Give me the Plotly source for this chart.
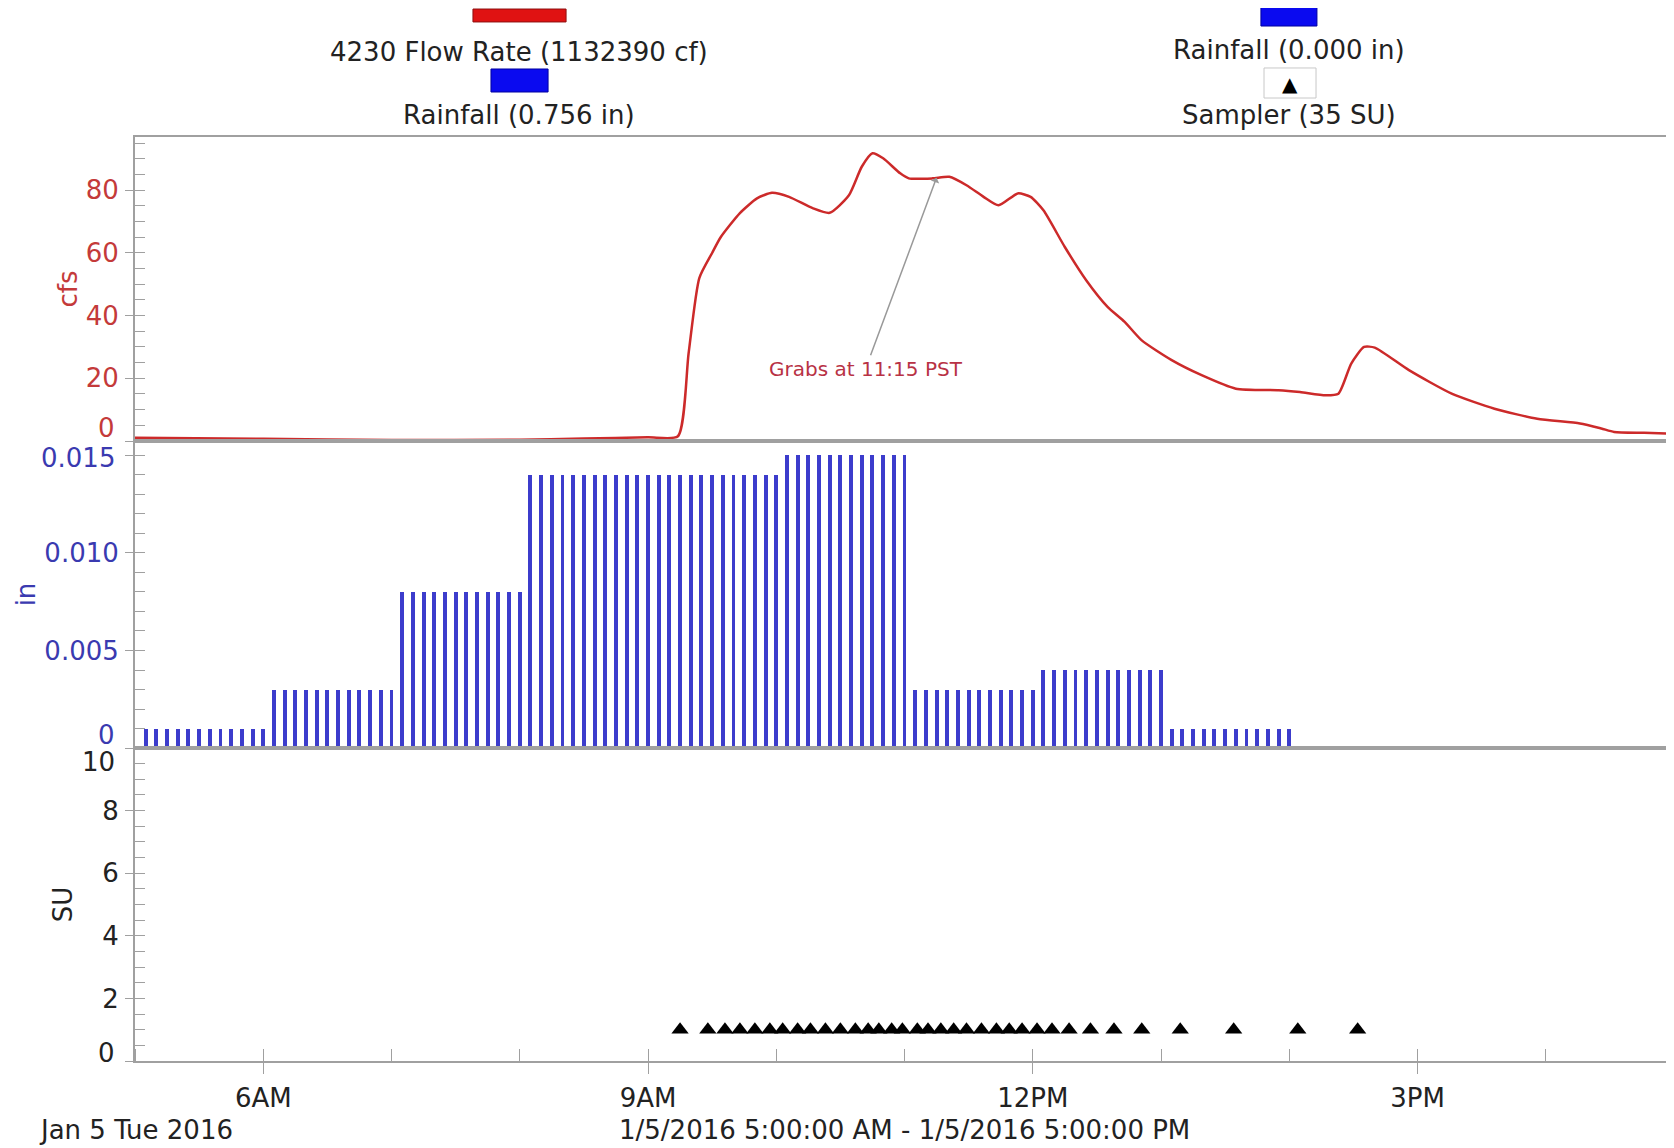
import plotly.graph_objects as go

# ---- flow rate (cfs) ----
flow_time = [
    "05:00", "06:00", "07:00", "08:00", "08:30", "09:00", "09:14", "09:19", "09:24",
    "09:30", "09:34", "09:43", "09:51", "09:58", "10:06", "10:17", "10:25", "10:34",
    "10:40", "10:45", "10:50", "10:58", "11:02", "11:13", "11:21", "11:29", "11:37",
    "11:44", "11:53", "11:59", "12:05", "12:15", "12:25", "12:35", "12:43", "12:51",
    "13:05", "13:19", "13:35", "13:55", "14:05", "14:17", "14:23", "14:29", "14:35",
    "14:40", "14:56", "15:16", "15:36", "15:56", "16:16", "16:26", "16:32", "16:46",
    "17:00",
]
flow_cfs = [
    1.0, 0.7, 0.3, 0.4, 0.8, 1.2, 1.5, 28, 52,
    60, 65, 72.7, 77.4, 79.2, 77.9, 74.3, 72.8, 78.4,
    87.5, 91.8, 90.2, 85.4, 83.8, 83.8, 84.3, 81.6, 77.9,
    75.2, 79.0, 77.9, 73.6, 61.9, 51.3, 42.8, 38.0, 32.1,
    25.8, 21.0, 16.7, 16.2, 15.6, 14.6, 15.1, 24.7, 30.0,
    29.8, 22.6, 15.1, 10.3, 7.1, 5.6, 4.0, 2.9, 2.6,
    2.3,
]

# ---- rainfall (in) per 5-minute interval, 5:05 AM .. 2:00 PM ----
rain_in = (
    [0.001] * 12    # 5-6 AM
    + [0.003] * 12  # 6-7 AM
    + [0.008] * 12  # 7-8 AM
    + [0.014] * 12  # 8-9 AM
    + [0.014] * 12  # 9-10 AM
    + [0.015] * 12  # 10-11 AM
    + [0.003] * 12  # 11-12
    + [0.004] * 12  # 12-1 PM
    + [0.001] * 12  # 1-2 PM
)
rain_time = []
for i in range(len(rain_in)):
    m = 5 * 60 + 5 * (i + 1)
    rain_time.append("2016-01-05 %02d:%02d" % (m // 60, m % 60))

# ---- sampler events ----
sample_time = [
    "09:15", "09:28", "09:36", "09:43", "09:50", "09:57", "10:03", "10:10", "10:16",
    "10:23", "10:30", "10:37", "10:43", "10:48", "10:54", "10:59", "11:06", "11:11",
    "11:17", "11:23", "11:29", "11:36", "11:43", "11:49", "11:55", "12:02", "12:09",
    "12:17", "12:27", "12:38", "12:51", "13:09", "13:34", "14:04", "14:32",
]
sample_su = [1, 1, 1, 1, 1, 1, 1, 1, 1, 1, 1, 1, 1, 1, 1, 1, 1, 1,
             1, 1, 1, 1, 1, 1, 1, 1, 1, 1, 1, 1, 1, 1, 1, 1, 1]

day = "2016-01-05 "
FONT = "DejaVu Sans"
RED = "#cc2a2a"
RED_TXT = "#c43a3a"
BLUE = "#3a3ab0"
GRAY = "#a0a0a0"

fig = go.Figure()

fig.add_trace(go.Scatter(
    x=[day + t for t in flow_time], y=flow_cfs,
    mode="lines", line=dict(color=RED, width=2.5, shape="spline", smoothing=0.6),
    xaxis="x", yaxis="y", showlegend=False))

fig.add_trace(go.Bar(
    x=rain_time, y=rain_in, width=110000,
    marker=dict(color="#3c3ccc", line=dict(width=0)),
    xaxis="x2", yaxis="y2", showlegend=False))

fig.add_trace(go.Scatter(
    x=[day + t for t in sample_time], y=sample_su,
    mode="markers", marker=dict(symbol="triangle-up", size=15, color="black"),
    xaxis="x3", yaxis="y3", showlegend=False))

"""$$$$$$$$$$$$$$$ FORMATTING $$$$$$$$$$$$$$$$"""
x_common = dict(type="date", range=[day + "05:00", day + "17:00"], showgrid=False,
                showline=True, linecolor=GRAY, linewidth=2, mirror=True, zeroline=False)
y_common = dict(showgrid=False, zeroline=False, showline=True, linecolor=GRAY, linewidth=2,
                ticks="outside", ticklen=8, tickcolor=GRAY, ticklabelstandoff=1)

# the page body has an 8px margin, so the figure is 8px smaller and margins shifted
fig.update_layout(
    xaxis=dict(x_common, anchor="y", matches="x3", showticklabels=False, ticks=""),
    xaxis2=dict(x_common, anchor="y2", matches="x3", showticklabels=False, ticks=""),
    xaxis3=dict(x_common, anchor="y3",
                tick0=day + "06:00", dtick=3 * 3600000, tickformat="%-I%p",
                ticks="outside", ticklen=11, tickcolor=GRAY, ticklabelstandoff=2,
                tickfont=dict(size=26, color="#222"),
                minor=dict(dtick=3600000, ticks="inside", ticklen=12, tickcolor=GRAY)),
    yaxis=dict(y_common, domain=[0.671, 1], anchor="x", range=[0, 97],
               tickvals=[0, 20, 40, 60, 80], ticktext=["", "20", "40", "60", "80"],
               tickfont=dict(size=26, color=RED_TXT),
               minor=dict(dtick=5, ticks="inside", ticklen=10, tickcolor=GRAY),
               title=dict(text="cfs", font=dict(size=26, color=RED_TXT), standoff=1)),
    yaxis2=dict(y_common, domain=[0.3387, 0.671], anchor="x2", range=[0, 0.01574],
                tickvals=[0, 0.005, 0.010, 0.015], ticktext=["", "0.005", "0.010", ""],
                tickfont=dict(size=26, color=BLUE),
                minor=dict(dtick=0.001, ticks="inside", ticklen=10, tickcolor=GRAY),
                title=dict(text="in", font=dict(size=26, color=BLUE), standoff=1)),
    yaxis3=dict(y_common, domain=[0, 0.3387], anchor="x3", range=[0, 10],
                tickvals=[0, 2, 4, 6, 8, 10], ticktext=["", "2", "4", "6", "8", ""],
                tickfont=dict(size=26, color="#222"),
                minor=dict(dtick=0.5, ticks="inside", ticklen=10, tickcolor=GRAY),
                title=dict(text="SU", font=dict(size=26, color="#222"), standoff=22)),
    width=1666, height=1140,
    margin=dict(l=127, r=0, t=129, b=87),
    plot_bgcolor="white", paper_bgcolor="white",
    font=dict(family=FONT, size=26, color="#222"),
    bargap=0,
)

# tick labels at the panel dividers, nudged apart so they don't collide
edge_labels = [("y", 0, "0", RED_TXT, 13), ("y2", 0.015, "0.015", BLUE, -3),
               ("y2", 0, "0", BLUE, 13), ("y3", 10, "10", "#222", -14),
               ("y3", 0, "0", "#222", 8)]
for yref, val, txt, col, shift in edge_labels:
    fig.add_annotation(xref="paper", yref=yref, x=0, y=val, text=txt, showarrow=False,
                       xanchor="right", xshift=-18, yshift=shift,
                       font=dict(size=26, color=col, family=FONT))

# grab note
fig.add_annotation(x=day + "11:15", y=84, xref="x", yref="y", text="Grabs at 11:15 PST",
                   showarrow=True, ax=-71, ay=191, arrowhead=1, arrowsize=1,
                   arrowwidth=1.5, arrowcolor="#999999",
                   font=dict(size=20, color="#b83245", family=FONT))

# bottom captions
fig.add_annotation(xref="paper", yref="paper", x=-0.0637, y=-0.075, text="Jan 5 Tue 2016",
                   showarrow=False, xanchor="left", yanchor="middle",
                   font=dict(size=26, color="#222", family=FONT))
fig.add_annotation(xref="paper", yref="paper", x=0.5, y=-0.075,
                   text="1/5/2016 5:00:00 AM - 1/5/2016 5:00:00 PM",
                   showarrow=False, xanchor="center", yanchor="middle",
                   font=dict(size=26, color="#222", family=FONT))

# header legend
legend_text = [(0.2495, 1.092, "4230 Flow Rate (1132390 cf)"),
               (0.2495, 1.0238, "Rainfall (0.756 in)"),
               (0.7498, 1.0942, "Rainfall (0.000 in)"),
               (0.7498, 1.0238, "Sampler (35 SU)")]
for lx, ly, txt in legend_text:
    fig.add_annotation(xref="paper", yref="paper", x=lx, y=ly, text=txt, showarrow=False,
                       xanchor="center", yanchor="middle",
                       font=dict(size=26, color="#222", family=FONT))

fig.add_shape(type="rect", xref="paper", yref="paper", x0=0.2196, x1=0.2801, y0=1.1245, y1=1.1385,
              fillcolor="#e01212", line=dict(color="#8e1010", width=1))
fig.add_shape(type="rect", xref="paper", yref="paper", x0=0.2313, x1=0.2684, y0=1.0487, y1=1.0736,
              fillcolor="#0a0af0", line=dict(color="#0000a0", width=1))
fig.add_shape(type="rect", xref="paper", yref="paper", x0=0.7316, x1=0.7680, y0=1.1201, y1=1.1461,
              fillcolor="#0a0af0", line=dict(color="#0000a0", width=1))
fig.add_shape(type="rect", xref="paper", yref="paper", x0=0.7336, x1=0.7674, y0=1.0422, y1=1.0747,
              fillcolor="white", line=dict(color="#c8c8c8", width=1))
fig.add_annotation(xref="paper", yref="paper", x=0.7505, y=1.0574, text="▲", showarrow=False,
                   xanchor="center", yanchor="middle", font=dict(size=20, color="black", family=FONT))

fig.write_html("out.html")
